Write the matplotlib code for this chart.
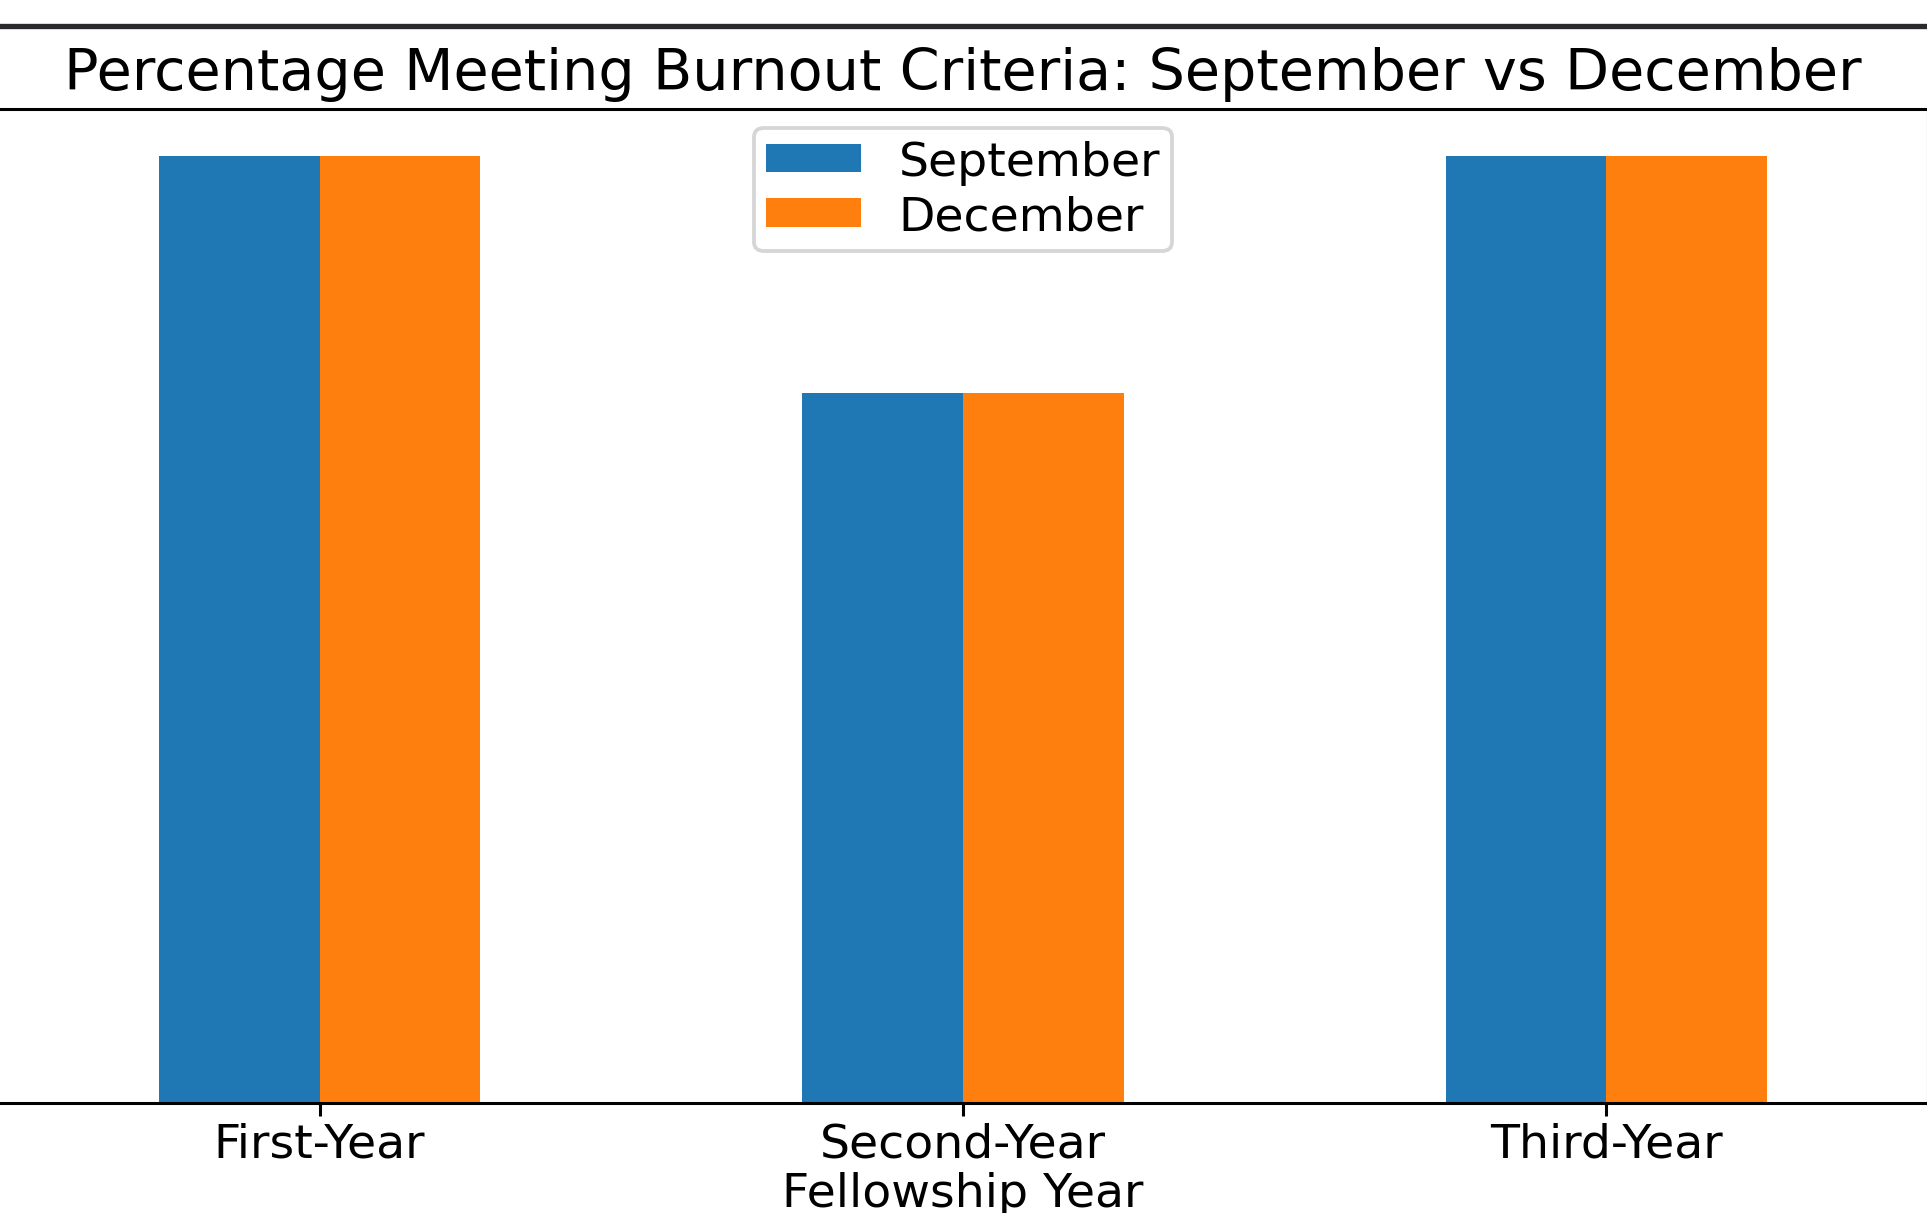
import numpy as np
import pandas as pd
import matplotlib
matplotlib.use("Agg")
import matplotlib.pyplot as plt
from matplotlib.lines import Line2D

# data (percent meeting burnout criteria)
years = ["First-Year", "Second-Year", "Third-Year"]
september = [100, 75, 100]
december = [100, 75, 100]

W, H = 1927, 1214
dpi = 275
fig = plt.figure(figsize=(W / dpi, H / dpi), dpi=dpi)

# axes nearly fills the picture (reference is a cropped screenshot,
# the y tick labels lie just past its left edge)
ax = fig.add_axes([-2 / W, 110 / H, 1930 / W, 994 / H])

df = pd.DataFrame({"September": september, "December": december}, index=years)
df.plot.bar(ax=ax, rot=0)

ax.set_title("Percentage Meeting Burnout Criteria: September vs December",
             fontsize=15, pad=5.3)
ax.set_xlabel("Fellowship Year", fontsize=12.4, labelpad=1.2)
ax.tick_params(axis="x", labelsize=12.4, pad=1.45)
ax.legend(loc="upper center", fontsize=12.4, borderaxespad=0.4,
          labelspacing=0.2, borderpad=0.25, handleheight=0.55)

# dark bar across the top of the screenshot
fig.add_artist(Line2D([0, 1], [1 - 27 / H, 1 - 27 / H], transform=fig.transFigure,
                      color="#2a2a2e", linewidth=1.4))

fig.savefig("out.png", dpi=dpi)
